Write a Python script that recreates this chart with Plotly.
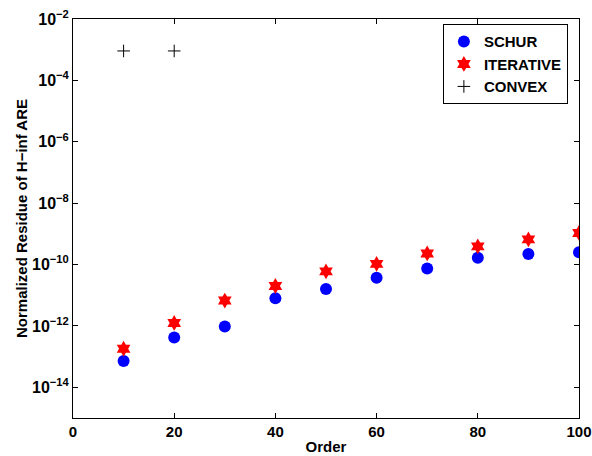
import plotly.graph_objects as go

order = [10, 20, 30, 40, 50, 60, 70, 80, 90, 100]
schur = [7.2e-14, 4.2e-13, 9.5e-13, 8e-12, 1.6e-11, 3.7e-11, 7.4e-11, 1.65e-10, 2.2e-10, 2.5e-10]
iterative = [1.8e-13, 1.25e-12, 6.7e-12, 2.0e-11, 6.0e-11, 1.05e-10, 2.3e-10, 3.9e-10, 6.6e-10, 1.07e-9]
convex_order = [10, 20]
convex = [9.1e-4, 9.1e-4]

xticks = [0, 20, 40, 60, 80, 100]
yexp = [-14, -12, -10, -8, -6, -4, -2]

font = "Liberation Sans, Arial, sans-serif"

fig = go.Figure()
fig.add_trace(go.Scatter(x=order, y=schur, mode="markers", name="<b>SCHUR</b>",
                         marker=dict(symbol="circle", size=12, color="#0000ff")))
fig.add_trace(go.Scatter(x=order, y=iterative, mode="markers", name="<b>ITERATIVE</b>",
                         marker=dict(symbol="hexagram", size=12, color="#ff0000")))
fig.add_trace(go.Scatter(x=convex_order, y=convex, mode="markers", name="<b>CONVEX</b>",
                         marker=dict(symbol="cross-thin", size=9, color="black",
                                     line=dict(width=1, color="black"))))

fig.update_layout(
    width=592, height=456,
    margin=dict(l=73, r=13, t=19, b=38, autoexpand=False),
    paper_bgcolor="white", plot_bgcolor="white",
    font=dict(family=font, size=12, color="black"),
    showlegend=True,
    legend=dict(x=0.731, y=0.987, xanchor="left", yanchor="top",
                bordercolor="black", borderwidth=1, bgcolor="white",
                font=dict(family=font, size=15, color="black"),
                itemsizing="trace", tracegroupgap=0),
)
fig.update_xaxes(
    range=[0, 100], tickvals=xticks, ticktext=[f"<b>{t}</b>" for t in xticks],
    ticks="inside", ticklen=5, tickcolor="black", mirror="allticks", automargin=False,
    showline=True, linecolor="black", linewidth=1, showgrid=False, zeroline=False,
    tickfont=dict(family=font, size=15),
    title=dict(text="<b>Order</b>", font=dict(family=font, size=15), standoff=2),
)
fig.update_yaxes(
    type="log", range=[-15, -2],
    tickvals=[10.0 ** e for e in yexp],
    ticktext=[f"<b>10<sup>−{abs(e)}</sup></b>" for e in yexp],
    ticks="inside", ticklen=5, tickcolor="black", mirror="allticks", automargin=False,
    showline=True, linecolor="black", linewidth=1, showgrid=False, zeroline=False,
    tickfont=dict(family=font, size=16),
    title=dict(text="<b>Normalized Residue of H−inf ARE</b>", font=dict(family=font, size=15), standoff=0),
)

fig.write_html("out.html")
